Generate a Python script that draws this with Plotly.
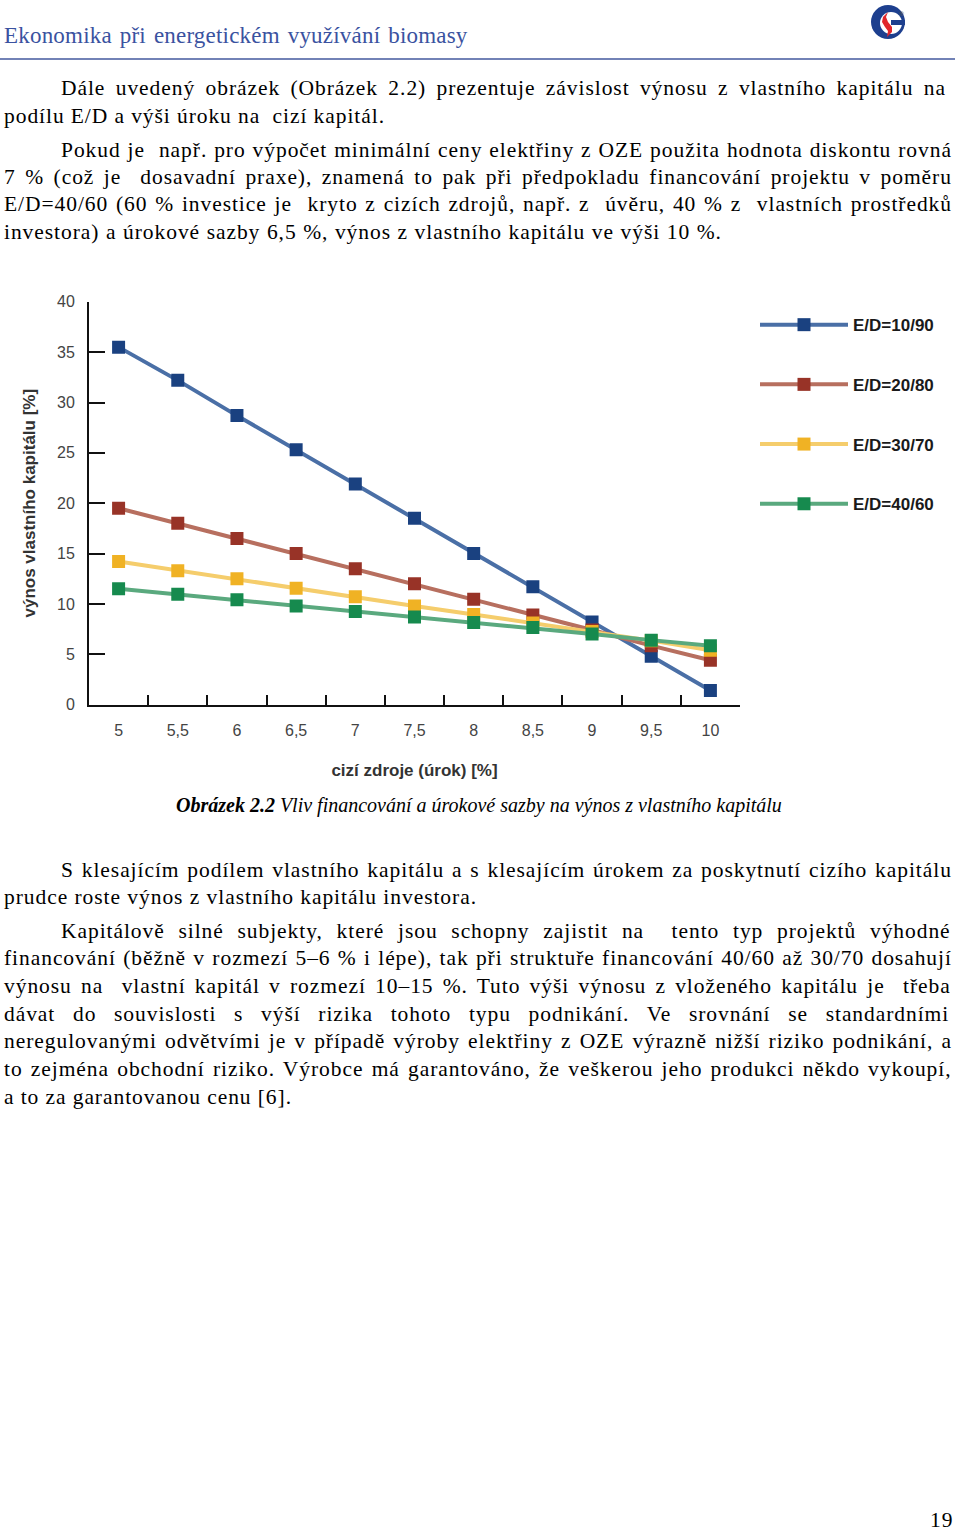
import unicodedata
import plotly.graph_objects as go

W = 960
FIG_H = 1545
# the photographed page maps figure y to picture y as 8 + 0.9896*y;
# positions below are given in picture pixels and converted back.
PIC_OFF = 8.0
PIC_SCALE = 0.9896

# ---------------- data ----------------
rates = ["5", "5,5", "6", "6,5", "7", "7,5", "8", "8,5", "9", "9,5", "10"]
ed_10_90 = [35.5, 32.2, 28.7, 25.3, 21.9, 18.5, 15.0, 11.7, 8.2, 4.8, 1.4]
ed_20_80 = [19.5, 18.0, 16.5, 15.0, 13.5, 12.0, 10.45, 8.9, 7.4, 5.85, 4.4]
ed_30_70 = [14.2, 13.3, 12.5, 11.55, 10.7, 9.8, 8.95, 8.1, 7.25, 6.35, 5.4]
ed_40_60 = [11.5, 10.95, 10.4, 9.8, 9.25, 8.7, 8.15, 7.65, 7.0, 6.4, 5.85]
series_names = ["E/D=10/90", "E/D=20/80", "E/D=30/70", "E/D=40/60"]
series_values = [ed_10_90, ed_20_80, ed_30_70, ed_40_60]
y_ticks = [0, 5, 10, 15, 20, 25, 30, 35, 40]

line_colors = ["#4a6fa6", "#b76f5f", "#f5cd6c", "#5aa97e"]
marker_colors = ["#1a4180", "#983327", "#f0b224", "#168a4e"]

SERIF = "Liberation Serif, Times New Roman, serif"
SANS = "Liberation Sans, Arial, sans-serif"

# Times New Roman advance widths (1/1000 em)
TIMES = {
    " ": 250, "%": 833, "(": 333, ")": 333, ",": 250, "-": 333, ".": 250, "/": 278,
    ":": 278, ";": 278, "=": 564, "[": 333, "]": 333, "\u2013": 500,
    "A": 722, "B": 667, "C": 667, "D": 722, "E": 611, "F": 556, "G": 722, "H": 722,
    "I": 333, "J": 389, "K": 722, "L": 611, "M": 889, "N": 722, "O": 722, "P": 556,
    "Q": 722, "R": 667, "S": 556, "T": 611, "U": 722, "V": 722, "W": 944, "X": 722,
    "Y": 722, "Z": 611,
    "a": 444, "b": 500, "c": 444, "d": 500, "e": 444, "f": 333, "g": 500, "h": 500,
    "i": 278, "j": 278, "k": 500, "l": 278, "m": 778, "n": 500, "o": 500, "p": 500,
    "q": 500, "r": 333, "s": 389, "t": 278, "u": 500, "v": 500, "w": 722, "x": 500,
    "y": 500, "z": 444,
}
for d in "0123456789":
    TIMES[d] = 500


def text_width(s):
    tot = 0
    for ch in s:
        if ch in TIMES:
            tot += TIMES[ch]
        else:
            base = unicodedata.normalize("NFD", ch)[0]
            tot += TIMES.get(base, 500)
    return tot / 1000.0


def px(x):
    return x / W


def py(y):
    return 1 - ((y - PIC_OFF) / PIC_SCALE) / FIG_H


annotations = []

BODY_FS = 21.5
BODY_LS = 0.94


def text_line(txt, x0, x1, yc, fs=BODY_FS, ls=BODY_LS, color="#000000", family=SERIF,
              yanchor="middle"):
    nat = text_width(txt) * fs + ls * len(txt)
    nsp = txt.count(" ")
    ws = (x1 - x0 - nat) / nsp if nsp else 0
    annotations.append(dict(
        x=px(x0), y=py(yc), xref="paper", yref="paper", xanchor="left", yanchor=yanchor,
        text=f'<span style="letter-spacing:{ls:.2f}px;word-spacing:{ws:.2f}px">{txt}</span>',
        showarrow=False, borderpad=0, borderwidth=0,
        font=dict(family=family, size=fs, color=color)))


# header
text_line("Ekonomika při energetickém využívání biomasy", 4, 468, 36, fs=23, ls=0.2,
          color="#3a52a0")

body_lines = [
    ("Dále uvedený obrázek (Obrázek 2.2) prezentuje závislost výnosu z vlastního kapitálu na", 61, 946, 88),
    ("podílu E/D a výši úroku na  cizí kapitál.", 4, 385, 116),
    ("Pokud je  např. pro výpočet minimální ceny elektřiny z OZE použita hodnota diskontu rovná", 61, 952, 150),
    ("7 % (což je  dosavadní praxe), znamená to pak při předpokladu financování projektu v poměru", 4, 952, 177),
    ("E/D=40/60 (60 % investice je  kryto z cizích zdrojů, např. z  úvěru, 40 % z  vlastních prostředků", 4, 952, 204),
    ("investora) a úrokové sazby 6,5 %, výnos z vlastního kapitálu ve výši 10 %.", 4, 722, 232),
    ("S klesajícím podílem vlastního kapitálu a s klesajícím úrokem za poskytnutí cizího kapitálu", 61, 952, 871),
    ("prudce roste výnos z vlastního kapitálu investora.", 4, 477, 898),
    ("Kapitálově silné subjekty, které jsou schopny zajistit na  tento typ projektů výhodné", 61, 952, 932),
    ("financování (běžně v rozmezí 5\u20136 % i lépe), tak při struktuře financování 40/60 až 30/70 dosahují", 4, 952, 959),
    ("výnosu na  vlastní kapitál v rozmezí 10\u201315 %. Tuto výši výnosu z vloženého kapitálu je  třeba", 4, 952, 987),
    ("dávat do souvislosti s výší rizika tohoto typu podnikání. Ve srovnání se standardními", 4, 952, 1015),
    ("neregulovanými odvětvími je v případě výroby elektřiny z OZE výrazně nižší riziko podnikání, a", 4, 952, 1042),
    ("to zejména obchodní riziko. Výrobce má garantováno, že veškerou jeho produkci někdo vykoupí,", 4, 952, 1070),
    ("a to za garantovanou cenu [6].", 4, 292, 1098),
]
for t, x0, x1, yc in body_lines:
    text_line(t, x0, x1, yc)

# caption
annotations.append(dict(
    x=px(478.5), y=py(806), xref="paper", yref="paper", xanchor="center", yanchor="middle",
    text="<b><i>Obrázek 2.2</i></b><i> Vliv financování a úrokové sazby na výnos z vlastního kapitálu</i>",
    showarrow=False, borderpad=0, borderwidth=0,
    font=dict(family=SERIF, size=20, color="#000000")))

# page number
text_line("19", 930, 952, 1521)

# ---------------- figure ----------------
fig = go.Figure()
for name, vals, lc, mc in zip(series_names, series_values, line_colors, marker_colors):
    fig.add_trace(go.Scatter(
        x=rates, y=vals, name=name, mode="lines+markers", legendgroup=name,
        line=dict(color=lc, width=4),
        marker=dict(symbol="square", size=13, color=mc, line=dict(width=0)),
    ))

shapes = []
# header rule
shapes.append(dict(type="line", xref="paper", yref="paper", x0=px(0), x1=px(955),
                   y0=py(59), y1=py(59), line=dict(color="#7282b6", width=2)))
# logo
shapes.append(dict(type="circle", xref="paper", yref="paper", x0=px(871), x1=px(905),
                   y0=py(39), y1=py(5), fillcolor="#1d3f8e", line=dict(width=0)))
shapes.append(dict(type="circle", xref="paper", yref="paper", x0=px(880), x1=px(902),
                   y0=py(34), y1=py(12), fillcolor="#ffffff", line=dict(width=0)))
shapes.append(dict(type="rect", xref="paper", yref="paper", x0=px(891), x1=px(905),
                   y0=py(25), y1=py(20), fillcolor="#1d3f8e", line=dict(width=0)))


def path_from(points):
    s = "M {:.5f},{:.5f} ".format(px(points[0][0]), py(points[0][1]))
    for (x, y) in points[1:]:
        s += "L {:.5f},{:.5f} ".format(px(x), py(y))
    return s + "Z"


flame = [(888, 12), (883, 17), (882, 22), (885, 27), (888, 31), (887, 37),
         (892, 32), (892, 27), (888, 22), (886, 17)]
shapes.append(dict(type="path", xref="paper", yref="paper", path=path_from(flame),
                   fillcolor="#e0262b", line=dict(width=0)))
annotations.append(dict(x=px(906), y=py(8), xref="paper", yref="paper", text="®",
                        showarrow=False, font=dict(size=6, color="#555")))

fig.update_layout(
    width=W, height=FIG_H,
    margin=dict(l=0, r=0, t=0, b=0),
    paper_bgcolor="white", plot_bgcolor="white",
    showlegend=True,
    legend=dict(x=px(755), y=py(307.3), xanchor="left", yanchor="top",
                bgcolor="rgba(0,0,0,0)", itemwidth=88, tracegroupgap=34.6,
                font=dict(family=SANS, size=17, color="#1a1a1a", weight="bold")),
    xaxis=dict(type="category", domain=[px(89), px(740)], anchor="y",
               range=[-0.5, len(rates) - 0.5],
               showline=True, linecolor="#111", linewidth=2,
               ticks="inside", ticklen=10, tickwidth=2, tickcolor="#111",
               tickson="boundaries", showgrid=False, zeroline=False,
               tickfont=dict(family=SANS, size=16, color="#444"),
               ticklabelstandoff=10,
               title=dict(text="<b>cizí zdroje (úrok) [%]</b>", standoff=26,
                          font=dict(family=SANS, size=17, color="#333"))),
    yaxis=dict(domain=[py(705), py(302)], anchor="x", range=[0, 40],
               tickvals=y_ticks, showline=True, linecolor="#111", linewidth=2,
               ticks="inside", ticklen=16, tickwidth=2, tickcolor="#111",
               showgrid=False, zeroline=False,
               tickfont=dict(family=SANS, size=16, color="#444"),
               ticklabelstandoff=9,
               title=dict(text="<b>výnos vlastního kapitálu [%]</b>", standoff=17,
                          font=dict(family=SANS, size=17, color="#333"))),
    annotations=annotations,
    shapes=shapes,
)

fig.write_html("out.html")
